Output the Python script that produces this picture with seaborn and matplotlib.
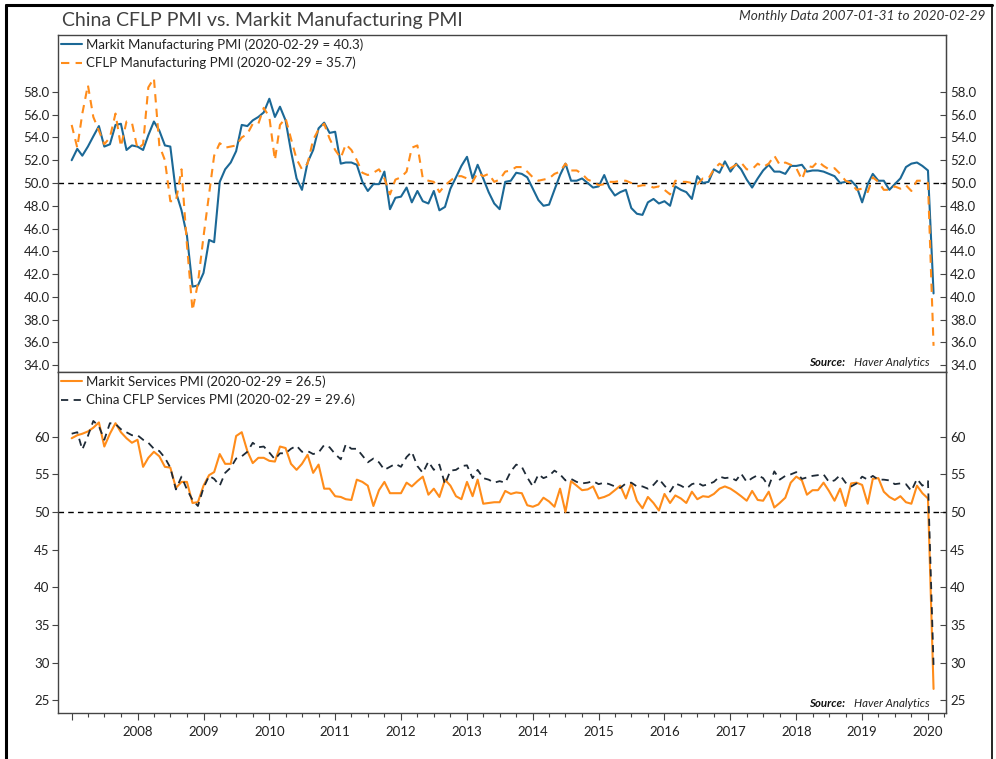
import pandas as pd
import matplotlib.pyplot as plt
import matplotlib.dates as mdates
from matplotlib.lines import Line2D
from matplotlib.ticker import FixedLocator, FuncFormatter
import seaborn as sns

# ────────────────────────────────────────
# Data (monthly, Jan 2007 .. Feb 2020)
# ────────────────────────────────────────
months = pd.date_range("2007-01-01", periods=158, freq="MS")

markit_mfg = [
    52.0, 53.0, 52.4, 53.2, 54.1, 55.0, 53.2, 53.4, 55.1, 55.2, 52.9, 53.3,
    53.2, 52.9, 54.2, 55.4, 54.6, 53.3, 53.2, 49.2, 47.6, 45.4, 40.9, 41.0,
    42.1, 45.0, 44.8, 50.1, 51.2, 51.8, 52.8, 55.1, 55.0, 55.5, 55.8, 56.2,
    57.4, 55.8, 56.7, 55.5, 52.8, 50.4, 49.4, 51.8, 52.9, 54.8, 55.3, 54.4,
    54.5, 51.7, 51.8, 51.8, 51.6, 50.1, 49.3, 49.9, 49.9, 51.0, 47.7, 48.7,
    48.8, 49.6, 48.3, 49.3, 48.4, 48.2, 49.3, 47.6, 47.9, 49.5, 50.5, 51.5,
    52.3, 50.4, 51.6, 50.4, 49.2, 48.2, 47.7, 50.1, 50.2, 50.9, 50.8, 50.5,
    49.5, 48.5, 48.0, 48.1, 49.4, 50.7, 51.7, 50.2, 50.2, 50.4, 50.0, 49.6,
    49.7, 50.7, 49.6, 48.9, 49.2, 49.4, 47.8, 47.3, 47.2, 48.3, 48.6, 48.2,
    48.4, 48.0, 49.7, 49.4, 49.2, 48.6, 50.6, 50.0, 50.1, 51.2, 50.9, 51.9,
    51.0, 51.7, 51.2, 50.3, 49.6, 50.4, 51.1, 51.6, 51.0, 51.0, 50.8, 51.5,
    51.5, 51.6, 51.0, 51.1, 51.1, 51.0, 50.8, 50.6, 50.0, 50.1, 50.2, 49.7,
    48.3, 49.9, 50.8, 50.2, 50.2, 49.4, 49.9, 50.4, 51.4, 51.7, 51.8, 51.5,
    51.1, 40.3,
]

cflp_mfg = [
    55.1, 53.1, 56.1, 58.6, 55.8, 54.6, 53.4, 54.0, 56.1, 53.2, 55.4, 55.3,
    53.0, 53.4, 58.4, 59.2, 53.3, 52.0, 48.4, 48.4, 51.2, 44.6, 38.8, 41.2,
    45.3, 49.0, 52.4, 53.5, 53.1, 53.2, 53.3, 54.0, 54.3, 55.2, 55.2, 56.6,
    55.8, 52.0, 55.1, 55.7, 53.9, 52.1, 51.2, 51.7, 53.8, 54.7, 55.2, 53.9,
    52.9, 52.2, 53.4, 52.9, 52.0, 50.9, 50.7, 50.9, 51.2, 50.4, 49.0, 50.3,
    50.5, 51.0, 53.1, 53.3, 50.4, 50.2, 50.1, 49.2, 49.8, 50.2, 50.6, 50.6,
    50.4, 50.1, 50.9, 50.6, 50.8, 50.1, 50.3, 51.0, 51.1, 51.4, 51.4, 51.0,
    50.5, 50.2, 50.3, 50.4, 50.8, 51.0, 51.7, 51.1, 51.1, 50.8, 50.3, 50.1,
    49.8, 49.9, 50.1, 50.1, 50.2, 50.2, 50.0, 49.7, 49.8, 49.8, 49.6, 49.7,
    49.4, 49.0, 50.2, 50.1, 50.1, 50.0, 49.9, 50.4, 50.4, 51.2, 51.7, 51.4,
    51.3, 51.6, 51.8, 51.2, 51.2, 51.7, 51.4, 51.7, 52.4, 51.6, 51.8, 51.6,
    51.3, 50.3, 51.5, 51.4, 51.9, 51.5, 51.2, 51.3, 50.8, 50.2, 50.0, 49.4,
    49.5, 49.2, 50.5, 50.1, 49.4, 49.4, 49.7, 49.5, 49.8, 49.3, 50.2, 50.2,
    50.0, 35.7,
]

markit_serv = [
    59.8, 60.2, 60.4, 60.7, 61.2, 61.9, 58.7, 60.4, 61.8, 60.6, 59.8, 59.2,
    59.6, 56.0, 57.2, 58.0, 57.4, 56.0, 55.9, 53.2, 54.0, 54.0, 51.2, 51.3,
    53.5, 54.9, 55.3, 57.7, 56.4, 56.4, 60.1, 60.6, 58.1, 56.5, 57.2, 57.2,
    56.8, 56.7, 58.7, 58.5, 56.4, 55.6, 56.4, 57.6, 55.2, 56.3, 53.1, 53.1,
    52.1, 52.0, 51.7, 51.6, 54.3, 54.0, 53.5, 50.8, 52.9, 54.0, 52.5, 52.5,
    52.5, 53.9, 53.4, 54.1, 54.7, 52.3, 53.1, 52.0, 54.3, 53.5, 52.1, 51.7,
    54.0, 52.1, 54.3, 51.1, 51.2, 51.3, 51.3, 52.8, 52.4, 52.6, 52.5, 50.9,
    50.7, 51.0, 51.9, 51.4, 50.7, 53.1, 50.0, 54.1, 53.5, 52.9, 53.0, 53.4,
    51.8, 52.0, 52.3, 52.9, 53.5, 51.8, 53.8, 51.5, 50.5, 52.0, 51.2, 50.2,
    52.4, 51.2, 52.2, 51.8, 51.2, 52.7, 51.7, 52.1, 52.0, 52.4, 53.1, 53.4,
    53.1, 52.6, 52.1, 51.5, 52.8, 51.6, 51.5, 52.7, 50.6, 51.2, 51.9, 53.9,
    54.7, 54.2, 52.3, 52.9, 52.9, 53.9, 52.8, 51.5, 53.1, 50.8, 53.8, 53.9,
    53.6, 51.1, 54.4, 54.5, 52.7, 52.0, 51.6, 52.1, 51.3, 51.1, 53.5, 52.5,
    51.8, 26.5,
]

cflp_serv = [
    60.4, 60.6, 58.3, 60.1, 62.1, 61.4, 59.6, 61.8, 61.7, 61.0, 60.6, 60.2,
    60.2, 59.6, 59.2, 58.4, 58.1, 57.2, 55.9, 53.0, 54.7, 53.0, 51.6, 50.8,
    53.2, 54.8, 54.4, 53.5, 55.2, 55.9, 57.1, 57.4, 58.0, 59.2, 58.6, 58.7,
    57.9, 57.0, 57.8, 57.8, 58.4, 58.8, 58.0, 58.1, 57.7, 57.9, 58.9, 58.6,
    57.7, 57.0, 59.0, 58.4, 58.4, 57.5, 56.6, 57.1, 56.6, 55.6, 56.0, 56.4,
    56.0, 57.3, 58.0, 56.1, 55.2, 56.7, 55.6, 56.3, 53.7, 55.5, 55.6, 56.1,
    56.2, 54.5, 55.6, 54.5, 54.3, 53.9, 54.1, 53.9, 55.4, 56.3, 56.0, 54.6,
    53.4, 55.0, 54.5, 54.8, 55.5, 55.0, 54.2, 54.4, 54.0, 53.8, 53.9, 54.1,
    53.7, 53.9, 53.7, 53.4, 53.2, 53.8, 53.9, 53.4, 53.4, 53.1, 53.6, 54.4,
    53.5, 52.7, 53.8, 53.5, 53.1, 53.7, 53.9, 53.5, 53.7, 54.0, 54.7, 54.5,
    54.6, 54.2, 55.1, 54.0, 54.5, 54.9, 54.5, 53.4, 55.4, 54.3, 54.8, 55.0,
    55.3, 54.4, 54.6, 54.8, 54.9, 55.0, 54.0, 54.2, 54.9, 53.9, 53.4, 53.8,
    54.7, 54.3, 54.8, 54.3, 54.3, 54.2, 53.7, 53.8, 53.7, 52.8, 54.4, 53.5,
    54.1, 29.6,
]

top_ticks = [34, 36, 38, 40, 42, 44, 46, 48, 50, 52, 54, 56, 58]
bottom_ticks = [25, 30, 35, 40, 45, 50, 55, 60]

df = pd.DataFrame({
    "date": months,
    "markit_mfg": markit_mfg,
    "cflp_mfg": cflp_mfg,
    "markit_serv": markit_serv,
    "cflp_serv": cflp_serv,
})

# ────────────────────────────────────────
# Style
# ────────────────────────────────────────
sns.set_style("white")
plt.rcParams["font.family"] = ["Lato", "DejaVu Sans"]
plt.rcParams["axes.edgecolor"] = "#444444"

BLUE = "#1b6896"
ORANGE = "#ff8c1a"
NAVY = "#1e2a36"
TXT = "#222222"

fig = plt.figure(figsize=(9.96, 7.59), dpi=100)
gs = fig.add_gridspec(2, 1, left=0.0582, right=0.9498, top=0.9539, bottom=0.0606,
                      hspace=0, height_ratios=[337, 341])
ax1 = fig.add_subplot(gs[0])
ax2 = fig.add_subplot(gs[1], sharex=ax1)

# top panel
sns.lineplot(data=df, x="date", y="markit_mfg", ax=ax1, color=BLUE, linewidth=1.5,
             label="Markit Manufacturing PMI (2020-02-29 = 40.3)")
sns.lineplot(data=df, x="date", y="cflp_mfg", ax=ax1, color=ORANGE, linewidth=1.5,
             linestyle=(0, (4, 3)), label="CFLP Manufacturing PMI (2020-02-29 = 35.7)")

# bottom panel
sns.lineplot(data=df, x="date", y="markit_serv", ax=ax2, color=ORANGE, linewidth=1.5,
             label="Markit Services PMI (2020-02-29 = 26.5)")
sns.lineplot(data=df, x="date", y="cflp_serv", ax=ax2, color=NAVY, linewidth=1.3,
             linestyle=(0, (4, 3)), label="China CFLP Services PMI (2020-02-29 = 29.6)")

for ax, ticks, lims, fmt in [
    (ax1, top_ticks, (33.4, 63.0), "{:.1f}"),
    (ax2, bottom_ticks, (23.3, 68.6), "{:.0f}"),
]:
    ax.axhline(50, color="black", linewidth=1.0, linestyle=(0, (4, 3)), zorder=1)
    ax.set_ylim(*lims)
    ax.set_xlabel("")
    ax.set_ylabel("")
    ax.yaxis.set_major_locator(FixedLocator(ticks))
    ax.yaxis.set_major_formatter(FuncFormatter(lambda v, p, f=fmt: f.format(v)))
    ax.tick_params(axis="y", which="major", left=True, direction="out", length=4,
                   width=0.8, color="#444444", labelsize=9.5, labelcolor=TXT, pad=2)
    sec = ax.secondary_yaxis("right")
    sec.yaxis.set_major_locator(FixedLocator(ticks))
    sec.yaxis.set_major_formatter(FuncFormatter(lambda v, p, f=fmt: f.format(v)))
    sec.tick_params(axis="y", direction="in", length=4, width=0.8, color="#444444",
                    labelsize=9.5, labelcolor=TXT, pad=3)
    sec.spines["right"].set_color("#444444")
    for s in ax.spines.values():
        s.set_linewidth(1.0)
    leg = ax.legend(loc="upper left", frameon=False, fontsize=9.5, handlelength=1.6,
                    handletextpad=0.3, labelspacing=0.45, borderaxespad=0.1,
                    borderpad=0.15)
    for t in leg.get_texts():
        t.set_color(TXT)
    ax.text(0.886, 0.013, "Source:", transform=ax.transAxes, ha="right", va="bottom",
            fontsize=8.3, fontweight="bold", fontstyle="italic", color="#111111")
    ax.text(0.982, 0.013, "Haver Analytics", transform=ax.transAxes, ha="right",
            va="bottom", fontsize=8.3, fontstyle="italic", color="#222222")

ax1.set_xlim(pd.Timestamp("2006-10-17"), pd.Timestamp("2020-04-10"))
ax1.tick_params(axis="x", which="both", bottom=False, labelbottom=False)

ax2.xaxis.set_major_locator(mdates.YearLocator())
ax2.xaxis.set_minor_locator(mdates.MonthLocator(bymonth=[4, 7, 10]))
ax2.xaxis.set_major_formatter(FuncFormatter(
    lambda v, p: "" if mdates.num2date(v).year == 2007 else str(mdates.num2date(v).year)))
ax2.tick_params(axis="x", which="major", bottom=True, direction="out", length=5,
                width=0.8, color="#444444", labelsize=9.5, labelcolor=TXT, pad=4)
ax2.tick_params(axis="x", which="minor", bottom=True, direction="out", length=3,
                width=0.8, color="#444444")

# titles
fig.text(0.062, 0.9657, "China CFLP PMI vs. Markit Manufacturing PMI", ha="left",
         va="baseline", fontsize=14, color="#404040")
fig.text(0.989, 0.9736, "Monthly Data 2007-01-31 to 2020-02-29", ha="right",
         va="baseline", fontsize=9.8, fontstyle="italic", color="#333333")

# outer border
fig.add_artist(Line2D([0.006, 0.006], [0, 0.994], transform=fig.transFigure,
                      color="black", linewidth=2.2))
fig.add_artist(Line2D([0.006, 0.996], [0.994, 0.994], transform=fig.transFigure,
                      color="black", linewidth=2.2))
fig.add_artist(Line2D([0.996, 0.996], [0, 0.994], transform=fig.transFigure,
                      color="black", linewidth=1.2))

fig.savefig("out.png", dpi=100)
